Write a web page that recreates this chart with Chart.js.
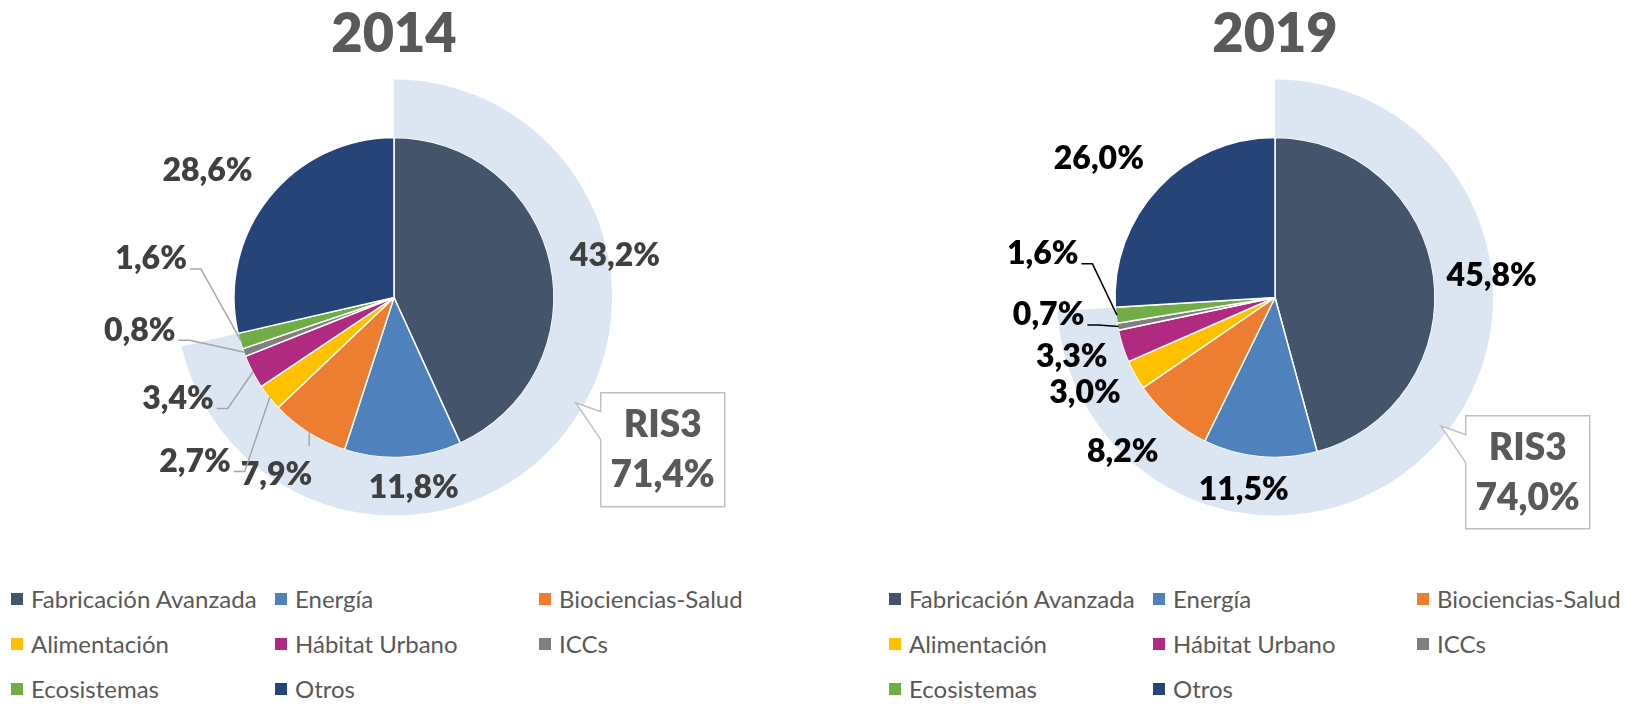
<!DOCTYPE html>
<html>
<head>
<meta charset="utf-8">
<title>RIS3 2014 - 2019</title>
<script src="https://cdn.jsdelivr.net/npm/chart.js@4.4.0/dist/chart.umd.min.js"></script>
<style>
  html, body { margin: 0; padding: 0; background: #fff; width: 1625px; height: 704px; overflow: hidden; }
  .grafico { position: absolute; top: 0; }
  .leyenda {
    position: absolute; top: 576px;
    display: grid; grid-template-columns: repeat(3, 264px); grid-auto-rows: 45px;
    font-family: Lato, sans-serif; font-size: 24px; color: #595959;
  }
  .item { display: flex; align-items: center; white-space: nowrap; }
  .cuadro { width: 12px; height: 12px; margin-right: 8px; flex: none; }
</style>
</head>
<body>
<canvas id="g2014" class="grafico" width="812" height="560" style="left:0px"></canvas>
<canvas id="g2019" class="grafico" width="813" height="560" style="left:812px"></canvas>
<div id="ley2014" class="leyenda" style="left:11px"></div>
<div id="ley2019" class="leyenda" style="left:889px"></div>

<script>
  const sectores = ['Fabricación Avanzada', 'Energía', 'Biociencias-Salud', 'Alimentación', 'Hábitat Urbano', 'ICCs', 'Ecosistemas', 'Otros']
  const colores = ['#44546A', '#4F81BD', '#ED7D31', '#FFC000', '#B02A7F', '#808080', '#70AD47', '#264478']
  const anios = ['2014', '2019']
  const valores2014 = [43.2, 11.8, 7.9, 2.7, 3.4, 0.8, 1.6, 28.6]
  const valores2019 = [45.8, 11.5, 8.2, 3.0, 3.3, 0.7, 1.6, 26.0]
  const ris3 = [71.4, 74.0]

  // colocacion de etiquetas: [factor del radio, dx, dy, linea] (linea: 0 nada, 1 codo, 2 vertical)
  const etiq2014 = [[1.4, 2, 6, 0], [1.19, 9, 0, 0], [1.33, -4, -3, 2], [1.61, 2, 3, 1], [1.49, -5, -10, 1], [1.5, -29, -50, 1], [1.5, -12, -104, 1], [1.41, -10, 14, 0]]
  const etiq2019 = [[1.36, 1, 7, 0], [1.21, -13, -1, 0], [1.36, -10, -10, 0], [1.33, -4, -8, 0], [1.32, -2, -5, 0], [1.42, -3, -24, 1], [1.48, 3, -70, 1], [1.40, -13, 15, 0]]

  function fmt(v) { return v.toFixed(1).replace('.', ',') + '%' }

  const pluginEtiquetas = {
    id: 'etiquetas',
    afterDatasetsDraw(chart, args, opts) {
      const ctx = chart.ctx
      const meta = chart.getDatasetMeta(1)
      const vals = chart.data.datasets[1].data
      ctx.save()
      ctx.textAlign = 'center'
      ctx.textBaseline = 'middle'
      ctx.font = '800 32px Lato'
      meta.data.forEach((arc, i) => {
        const p = opts.pos[i]
        const mid = (arc.startAngle + arc.endAngle) / 2
        const R = arc.outerRadius
        const ux = Math.cos(mid), uy = Math.sin(mid)
        const x = arc.x + ux * R * p[0] + p[1]
        const y = arc.y + uy * R * p[0] + p[2]
        const txt = fmt(vals[i])
        const ex = arc.x + ux * (R - 1), ey = arc.y + uy * (R - 1)
        ctx.strokeStyle = opts.linea
        ctx.lineWidth = 1.5
        if (p[3] === 1) {
          const w = ctx.measureText(txt).width
          const ly = y + 10
          ctx.beginPath()
          ctx.moveTo(x + w / 2 + 3, ly)
          ctx.lineTo(x + w / 2 + 14, ly)
          ctx.lineTo(ex, ey)
          ctx.stroke()
        } else if (p[3] === 2) {
          ctx.beginPath()
          ctx.moveTo(ex, ey)
          ctx.lineTo(ex, ey + 14)
          ctx.stroke()
        }
        ctx.fillStyle = opts.color
        ctx.fillText(txt, x, y)
      })

      // globo RIS3
      const g = opts.globo
      const a0 = meta.data[0]
      const bx = a0.x + g.dx, by = a0.y + g.dy
      ctx.beginPath()
      ctx.moveTo(bx, by)
      ctx.lineTo(bx + g.w, by)
      ctx.lineTo(bx + g.w, by + g.h)
      ctx.lineTo(bx, by + g.h)
      ctx.lineTo(bx, by + 47)
      ctx.lineTo(bx - 25, by + 10)
      ctx.lineTo(bx, by + 19)
      ctx.closePath()
      ctx.fillStyle = '#fff'
      ctx.fill()
      ctx.strokeStyle = '#BFBFBF'
      ctx.lineWidth = 1.5
      ctx.stroke()
      ctx.fillStyle = '#595959'
      ctx.font = '800 37px Lato'
      ctx.fillText('RIS3', bx + g.w / 2, by + 32)
      ctx.fillText(fmt(opts.ris3), bx + g.w / 2, by + 82)
      ctx.restore()
    }
  }

  function dibujar(id, anio, valores, total, etiq, padL, padR, colorTxt, colorLinea, globo) {
    const ctx = document.getElementById(id).getContext('2d')
    return new Chart(ctx, {
      type: 'pie',
      data: {
        labels: sectores,
        datasets: [
          {
            data: [total, 100 - total],
            backgroundColor: ['#DCE6F2', 'rgba(0,0,0,0)'],
            borderWidth: 0,
            hoverOffset: 0,
            weight: 58
          },
          {
            data: valores,
            backgroundColor: colores,
            borderColor: '#ffffff',
            borderWidth: 1.5,
            hoverOffset: 0,
            weight: 160
          }
        ]
      },
      options: {
        responsive: false,
        animation: false,
        events: [],
        layout: { padding: { left: padL, right: padR, top: 0, bottom: 44.5 } },
        plugins: {
          legend: { display: false },
          tooltip: { enabled: false },
          title: {
            display: true,
            text: anio,
            color: '#595959',
            font: { family: 'Lato', size: 54, weight: 800 },
            padding: { top: 2.6, bottom: 12.1 }
          },
          etiquetas: { pos: etiq, color: colorTxt, linea: colorLinea, ris3: total, globo: globo }
        }
      },
      plugins: [pluginEtiquetas]
    })
  }

  function leyenda(id) {
    const cont = document.getElementById(id)
    sectores.forEach((s, i) => {
      const d = document.createElement('div')
      d.className = 'item'
      d.innerHTML = `<span class="cuadro" style="background:${colores[i]}"></span>${s}`
      cont.append(d)
    })
  }

  dibujar('g2014', anios[0], valores2014, ris3[0], etiq2014, 176, 200, '#404040', '#A6A6A6', { dx: 206.7, dy: 95.2, w: 124, h: 114 })
  dibujar('g2019', anios[1], valores2019, ris3[1], etiq2019, 245, 132, '#000000', '#000000', { dx: 190.7, dy: 118.2, w: 124, h: 113 })
  leyenda('ley2014')
  leyenda('ley2019')
</script>
</body>
</html>
